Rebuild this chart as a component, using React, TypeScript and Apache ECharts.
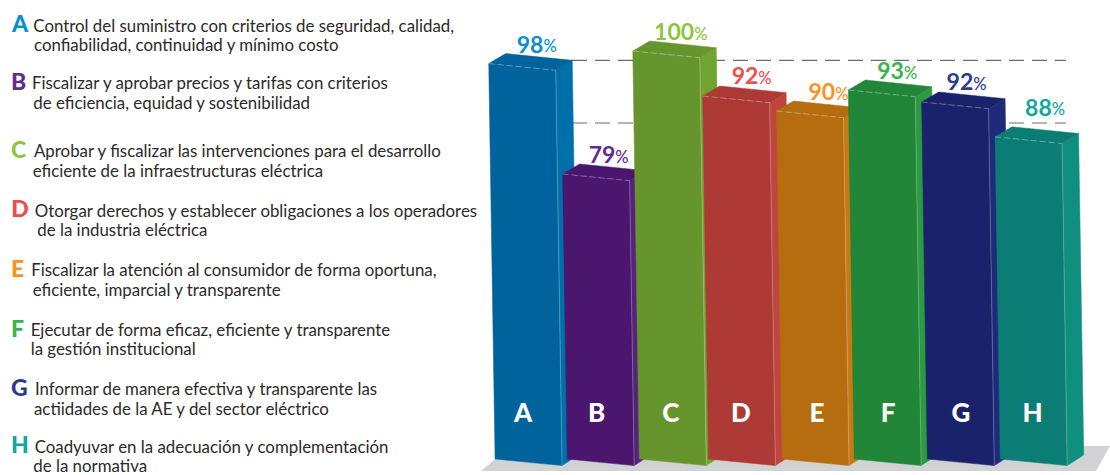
import React, { useEffect, useRef } from "react";
import * as echarts from "echarts";

const categories = ["A", "B", "C", "D", "E", "F", "G", "H"];
const percentLabels = [98, 79, 100, 92, 90, 93, 92, 88];
// Bar heights as actually drawn in the picture, on the same percent scale
const barLevels = [97.9, 79.5, 100, 92.5, 90, 93.5, 91.5, 85.7];
const referenceLevels = [98.45, 88];
const frontColors = ["#00639b", "#4b166e", "#67952d", "#ae3a36", "#b56d10", "#218637", "#1a226c", "#0b7d75"];
const sideColors = ["#0070aa", "#55237e", "#70a431", "#c0443f", "#c97913", "#2c9a40", "#1f2a7a", "#0f8f80"];
const brightColors = ["#0a8fd4", "#5f2d91", "#8cc63f", "#ef4d4d", "#f7941d", "#39b54a", "#2e3a8f", "#13a89e"];
const firstLines = [
  "Control del suministro con criterios de seguridad, calidad,",
  "Fiscalizar y aprobar precios y tarifas con criterios",
  "Aprobar y fiscalizar las intervenciones para el desarrollo",
  "Otorgar derechos y establecer obligaciones a los operadores",
  "Fiscalizar la atención al consumidor de forma oportuna,",
  "Ejecutar de forma eficaz, eficiente y transparente",
  "Informar de manera efectiva y transparente las",
  "Coadyuvar en la adecuación y complementación",
];
const secondLines = [
  "confiabilidad, continuidad y mínimo costo",
  "de eficiencia, equidad y sostenibilidad",
  "eficiente de la infraestructuras eléctrica",
  "de la industria eléctrica",
  "eficiente, imparcial y transparente",
  "la gestión institucional",
  "actiidades de la AE y del sector eléctrico",
  "de la normativa",
];

// Layout of the legend text: [letterX, baseline1, line1X, line2X, baseline2]
const legendLayout = [
  [12, 31.7, 33.3, 34, 51],
  [11, 89, 32, 33.3, 108.3],
  [11, 157, 34, 32.7, 176.7],
  [11.3, 216.5, 34.7, 37.3, 236],
  [11, 276, 31.3, 32.7, 295.7],
  [11, 336, 30.7, 30.7, 355],
  [11, 395, 35, 34, 414.3],
  [11, 452.4, 34.7, 33.3, 471.7],
];
// Hand-placement quirks of the original drawing, in pixels
const barNudge = [0, 0, 0, -3, -1.5, -1.5, -0.5, 0.3];
const letterNudge = [-5, -3.5, -1.5, -3.5, 0.5, -0.5, 0, -0.5];
const labelDx = [48, 46, 48, 49, 52, 49, 45, 50];
const labelLift = [12.6, 12.3, 12.7, 13.3, 12.7, 12.3, 13.4, 23];

const FONT = "Lato";
const Y_MIN = 32;
const Y_MAX = 100;
const TEXT_SIZE = 16.85;
const LETTER_SIZE = 23;
const CENTRAL = 0.36; // central baseline above the alphabetic baseline, in em

function renderBar(params: any, api: any) {
  const i = api.value(0);
  const level = api.value(1);
  const [cx0, yTop] = api.coord([i, level]);
  const cx = cx0 + barNudge[i];
  const yBase = api.coord([i, Y_MIN])[1];
  const h = yBase - yTop;
  const skew = 0.016 * h;
  const bl = [cx - 33, yBase];
  const br = [cx + 34, yBase + 6.6];
  const tl = [bl[0] - skew, yTop];
  const tr = [br[0] - skew, yTop + 6.7];
  const backL = [tl[0] + 17, tl[1] - 10];
  const backR = [tr[0] + 16.5, tr[1] - 10];
  const sideB = [br[0] + 16.5, br[1] - 10.7];
  const poly = (points: number[][], fill: string) => ({
    type: "polygon",
    shape: { points },
    style: { fill, stroke: fill, lineWidth: 0.5 },
  });
  return {
    type: "group",
    children: [
      poly([tr, backR, sideB, br], sideColors[i]),
      poly([tl, backL, backR, tr], frontColors[i]),
      poly([tl, tr, br, bl], frontColors[i]),
      {
        type: "line",
        shape: { x1: tl[0], y1: tl[1], x2: tr[0], y2: tr[1] },
        style: { stroke: "rgba(255,255,255,0.4)", lineWidth: 0.8, lineDash: [6, 3] },
      },
      {
        type: "line",
        shape: { x1: tr[0], y1: tr[1], x2: br[0], y2: br[1] },
        style: { stroke: "rgba(255,255,255,0.35)", lineWidth: 0.8 },
      },
      {
        type: "text",
        style: {
          x: tl[0] + labelDx[i],
          y: tl[1] - labelLift[i] - 7.3,
          text: `{n|${percentLabels[i]}}{p|%}`,
          align: "center",
          verticalAlign: "middle",
          rich: {
            n: { fontFamily: FONT, fontWeight: 700, fontSize: 23, fill: brightColors[i] },
            p: { fontFamily: FONT, fontWeight: 500, fontSize: 16.5, fill: brightColors[i], padding: [5, 0, 0, 0] },
          },
        },
      },
      {
        type: "text",
        style: {
          x: cx0 + letterNudge[i],
          y: 411.7,
          text: categories[i],
          align: "center",
          verticalAlign: "middle",
          fontFamily: FONT,
          fontWeight: 900,
          fontSize: 26,
          fill: "#ffffff",
        },
      },
    ],
  };
}

function renderReference(params: any, api: any) {
  const y = api.coord([0, api.value(0)])[1];
  return {
    type: "line",
    shape: { x1: 572, y1: y, x2: 1066, y2: y },
    style: { stroke: "#6d6e71", lineWidth: 1.2, lineDash: [15, 8] },
  };
}

function legendGraphics() {
  const out: any[] = [];
  categories.forEach((c, i) => {
    const [lx, b1, x1, x2, b2] = legendLayout[i];
    out.push({
      type: "text",
      style: {
        x: lx,
        y: b1 - LETTER_SIZE * CENTRAL,
        text: c,
        verticalAlign: "middle",
        fontFamily: FONT,
        fontWeight: 900,
        fontSize: LETTER_SIZE,
        fill: brightColors[i],
      },
    });
    out.push({
      type: "text",
      style: {
        x: x1,
        y: b1 - TEXT_SIZE * CENTRAL,
        text: firstLines[i],
        verticalAlign: "middle",
        fontFamily: FONT,
        fontSize: TEXT_SIZE,
        fill: "#2b2a29",
      },
    });
    out.push({
      type: "text",
      style: {
        x: x2,
        y: b2 - TEXT_SIZE * CENTRAL,
        text: secondLines[i],
        verticalAlign: "middle",
        fontFamily: FONT,
        fontSize: TEXT_SIZE,
        fill: "#2b2a29",
      },
    });
  });
  return out;
}

export default function App() {
  const ref = useRef<HTMLDivElement>(null);
  useEffect(() => {
    document.body.style.margin = "0";
    const chart = echarts.init(ref.current!, undefined, { renderer: "svg" });
    chart.setOption({
      animation: false,
      backgroundColor: "#ffffff",
      grid: { left: 492, top: 51, width: 577, height: 408 },
      xAxis: { type: "category", data: categories, show: false },
      yAxis: { type: "value", min: Y_MIN, max: Y_MAX, show: false },
      graphic: [
        {
          type: "polygon",
          z: 0,
          shape: { points: [[481, 471], [495, 459], [510, 446], [1110, 446], [1096, 471]] },
          style: { fill: "#d1d2d4" },
        },
        ...legendGraphics(),
      ],
      series: [
        {
          type: "custom",
          z: 2,
          clip: false,
          coordinateSystem: "cartesian2d",
          renderItem: renderReference,
          encode: { y: 0 },
          data: referenceLevels.map((v) => [v]),
        },
        {
          type: "custom",
          z: 3,
          clip: false,
          coordinateSystem: "cartesian2d",
          renderItem: renderBar,
          encode: { x: 0, y: 1 },
          data: barLevels.map((v, i) => [i, v]),
        },
      ],
    });
    return () => chart.dispose();
  }, []);
  return <div ref={ref} style={{ width: 1110, height: 475 }} />;
}
